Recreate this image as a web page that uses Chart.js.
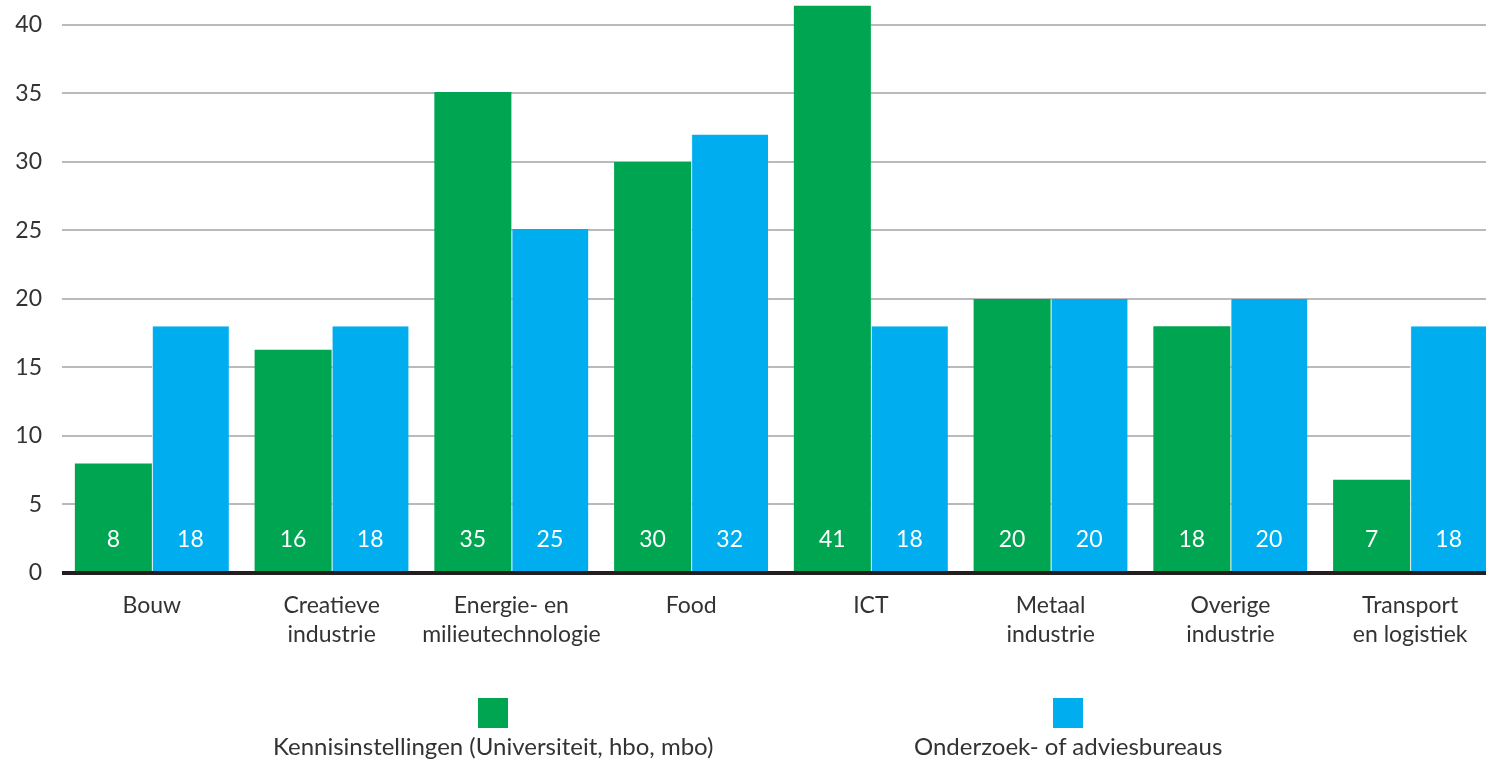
<!DOCTYPE html>
<html>
<head>
<meta charset="utf-8">
<script src="https://cdn.jsdelivr.net/npm/chart.js@4.4.1/dist/chart.umd.min.js"></script>
<style>
    html, body { margin: 0; padding: 0; background: #fff; overflow: hidden; }
    #wrap { position: relative; width: 1486px; height: 761px; overflow: hidden; }
    #chartBox { position: absolute; left: 0; top: 0; width: 1500px; height: 761px; }
    .legend-item { position: absolute; top: 698px; text-align: center; font-family: Lato, sans-serif; font-size: 24px; color: #333; white-space: nowrap; line-height: 1.2; }
    .legend-item .swatch { width: 30px; height: 30px; margin: 0 auto 4px auto; }
</style>
</head>
<body>
<div id="wrap">
    <div id="chartBox"><canvas id="barChart" width="1500" height="761"></canvas></div>
    <div id="legend"></div>
</div>
<script>
// --- Data ---
const categories = [
    ['Bouw'],
    ['Creatieve', 'industrie'],
    ['Energie- en', 'milieutechnologie'],
    ['Food'],
    ['ICT'],
    ['Metaal', 'industrie'],
    ['Overige', 'industrie'],
    ['Transport', 'en logistiek']
];
const seriesNames = ['Kennisinstellingen (Universiteit, hbo, mbo)', 'Onderzoek- of adviesbureaus'];
const kennisValues = [8, 16.3, 35.1, 30, 41.4, 20, 18, 6.8];
const onderzoekValues = [18, 18, 25.1, 32, 18, 20, 20, 18];
const kennisLabels = [8, 16, 35, 30, 41, 20, 18, 7];
const onderzoekLabels = [18, 18, 25, 32, 18, 20, 20, 18];
const yTicks = [0, 5, 10, 15, 20, 25, 30, 35, 40];

const GREEN = '#00a551';
const BLUE = '#00aeef';
const FONT = 'Lato, sans-serif';

// Value labels inside the bars, near the bottom
const valueLabels = {
    id: 'valueLabels',
    afterDatasetsDraw(chart) {
        const ctx = chart.ctx;
        const zeroY = chart.scales.y.getPixelForValue(0);
        const texts = [kennisLabels, onderzoekLabels];
        ctx.save();
        ctx.fillStyle = '#ffffff';
        ctx.font = '23px ' + FONT;
        ctx.textAlign = 'center';
        ctx.textBaseline = 'middle';
        chart.data.datasets.forEach((ds, i) => {
            chart.getDatasetMeta(i).data.forEach((bar, j) => {
                ctx.fillText(String(texts[i][j]), bar.x, zeroY - 33);
            });
        });
        ctx.restore();
    }
};

new Chart(document.getElementById('barChart'), {
    type: 'bar',
    data: {
        labels: categories,
        datasets: [
            {
                label: seriesNames[0],
                data: kennisValues,
                backgroundColor: GREEN,
                borderWidth: 0,
                categoryPercentage: 0.857,
                barPercentage: 1
            },
            {
                label: seriesNames[1],
                data: onderzoekValues,
                backgroundColor: BLUE,
                borderColor: '#e8f6fb',
                borderWidth: { left: 1, right: 0, top: 0, bottom: 0 },
                borderSkipped: false,
                categoryPercentage: 0.857,
                barPercentage: 1
            }
        ]
    },
    options: {
        responsive: false,
        animation: false,
        devicePixelRatio: 1,
        layout: { padding: { top: 3, right: 0, bottom: 101, left: 0 } },
        plugins: {
            legend: { display: false },
            tooltip: { enabled: false }
        },
        scales: {
            x: {
                z: 1,
                grid: { display: false, drawTicks: false },
                border: { display: false },
                ticks: {
                    color: '#333',
                    font: { family: FONT, size: 23, lineHeight: 1.26 },
                    padding: 18,
                    maxRotation: 0,
                    autoSkip: false
                },
                afterFit: scale => {
                    scale.height = 87;
                    scale.paddingLeft = 0;
                    scale.paddingRight = 0;
                }
            },
            y: {
                z: 1,
                min: 0,
                max: 41.6,
                afterBuildTicks: axis => {
                    axis.ticks = yTicks.map(v => ({ value: v }));
                },
                grid: {
                    drawTicks: false,
                    color: c => c.tick && c.tick.value === 0 ? '#231f20' : 'rgba(70,70,85,0.38)',
                    lineWidth: c => c.tick && c.tick.value === 0 ? 4 : 2
                },
                border: { display: false },
                ticks: {
                    color: '#333',
                    font: { family: FONT, size: 23 },
                    padding: 20
                },
                afterFit: scale => {
                    scale.width = 62;
                    scale.paddingTop = 0;
                    scale.paddingBottom = 0;
                }
            }
        }
    },
    plugins: [valueLabels]
});

// --- HTML legend (swatch above text) ---
const legendCenters = [493, 1068];
const legendColors = [GREEN, BLUE];
const legendEl = document.getElementById('legend');
seriesNames.forEach((name, i) => {
    const item = document.createElement('div');
    item.className = 'legend-item';
    item.innerHTML = '<div class="swatch" style="background:' + legendColors[i] + '"></div>' + name;
    legendEl.appendChild(item);
    item.style.left = (legendCenters[i] - item.offsetWidth / 2) + 'px';
});
</script>
</body>
</html>
